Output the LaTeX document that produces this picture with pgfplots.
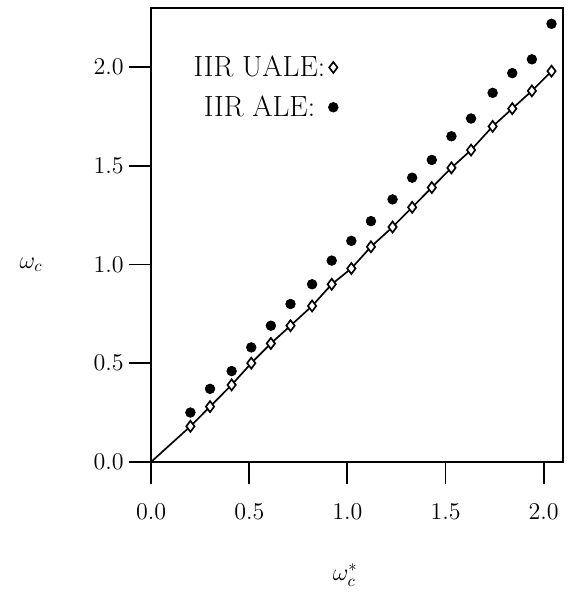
\documentclass[border=0pt]{standalone}
\usepackage{pgfplots}
\pgfplotsset{compat=1.18}
\begin{document}
\begin{tikzpicture}
\begin{axis}[
  scale only axis,
  width=247pt, height=272pt,
  xmin=0, xmax=2.1, ymin=0, ymax=2.3,
  xtick={0,0.5,1,1.5,2}, ytick={0,0.5,1,1.5,2},
  xtick pos=left, ytick pos=left,
  tick align=outside,
  major tick length=13pt,
  axis line style={line width=1.1pt},
  major tick style={line width=1.1pt, black},
  tick label style={font=\fontsize{14.5}{17}\selectfont},
  xticklabel style={yshift=-9pt, /pgf/number format/.cd, fixed, fixed zerofill, precision=1},
  yticklabel style={/pgf/number format/.cd, fixed, fixed zerofill, precision=1},
  every axis x label/.style={at={(rel axis cs:0.471,0)}, anchor=center, yshift=-68pt},
  every axis y label/.style={at={(rel axis cs:0,0.434)}, anchor=center, xshift=-72pt},
  xlabel={\fontsize{14}{16}\selectfont$\omega_c^*$},
  ylabel={\fontsize{14}{16}\selectfont$\omega_c$},
  legend style={draw=none, fill=none, at={(rel axis cs:0.082,0.91)}, anchor=north west,
    font=\fontsize{17.5}{20}\selectfont, row sep=6pt},
  legend plot pos=right,
  legend cell align=right,
  legend image code/.code={\draw[mark repeat=2,mark phase=2] plot coordinates {(0cm,0cm) (0.55cm,0cm) (0.7cm,0cm)};},
  clip=false,
]
\addplot[black, line width=1pt, forget plot] coordinates {
(0,0) (0.20,0.18) (0.30,0.28) (0.41,0.39) (0.51,0.50) (0.61,0.60) (0.71,0.69)
(0.82,0.79) (0.92,0.90) (1.02,0.98) (1.12,1.09) (1.23,1.19) (1.33,1.29)
(1.43,1.39) (1.53,1.49) (1.63,1.58) (1.74,1.70) (1.84,1.79) (1.94,1.88) (2.04,1.98)};
\addplot[only marks, mark=diamond*, mark size=3.3pt, mark options={fill=white, draw=black, line width=1pt}] coordinates {
(0.20,0.18) (0.30,0.28) (0.41,0.39) (0.51,0.50) (0.61,0.60) (0.71,0.69)
(0.82,0.79) (0.92,0.90) (1.02,0.98) (1.12,1.09) (1.23,1.19) (1.33,1.29)
(1.43,1.39) (1.53,1.49) (1.63,1.58) (1.74,1.70) (1.84,1.79) (1.94,1.88) (2.04,1.98)};
\addlegendentry{IIR UALE:}
\addplot[only marks, mark=*, mark size=2.9pt, mark options={fill=black, draw=black}] coordinates {
(0.20,0.25) (0.30,0.37) (0.41,0.46) (0.51,0.58) (0.61,0.69) (0.71,0.80)
(0.82,0.90) (0.92,1.02) (1.02,1.12) (1.12,1.22) (1.23,1.33) (1.33,1.44)
(1.43,1.53) (1.53,1.65) (1.63,1.74) (1.74,1.87) (1.84,1.97) (1.94,2.04) (2.04,2.22)};
\addlegendentry{IIR ALE:\hphantom{\kern6pt}}
\end{axis}
\path (current axis.south west) ++(-90.6pt,-82.2pt) coordinate (bbA);
\path (current axis.north east) ++(4.2pt,4.8pt) coordinate (bbB);
\path[use as bounding box] (bbA) rectangle (bbB);
\end{tikzpicture}
\end{document}
